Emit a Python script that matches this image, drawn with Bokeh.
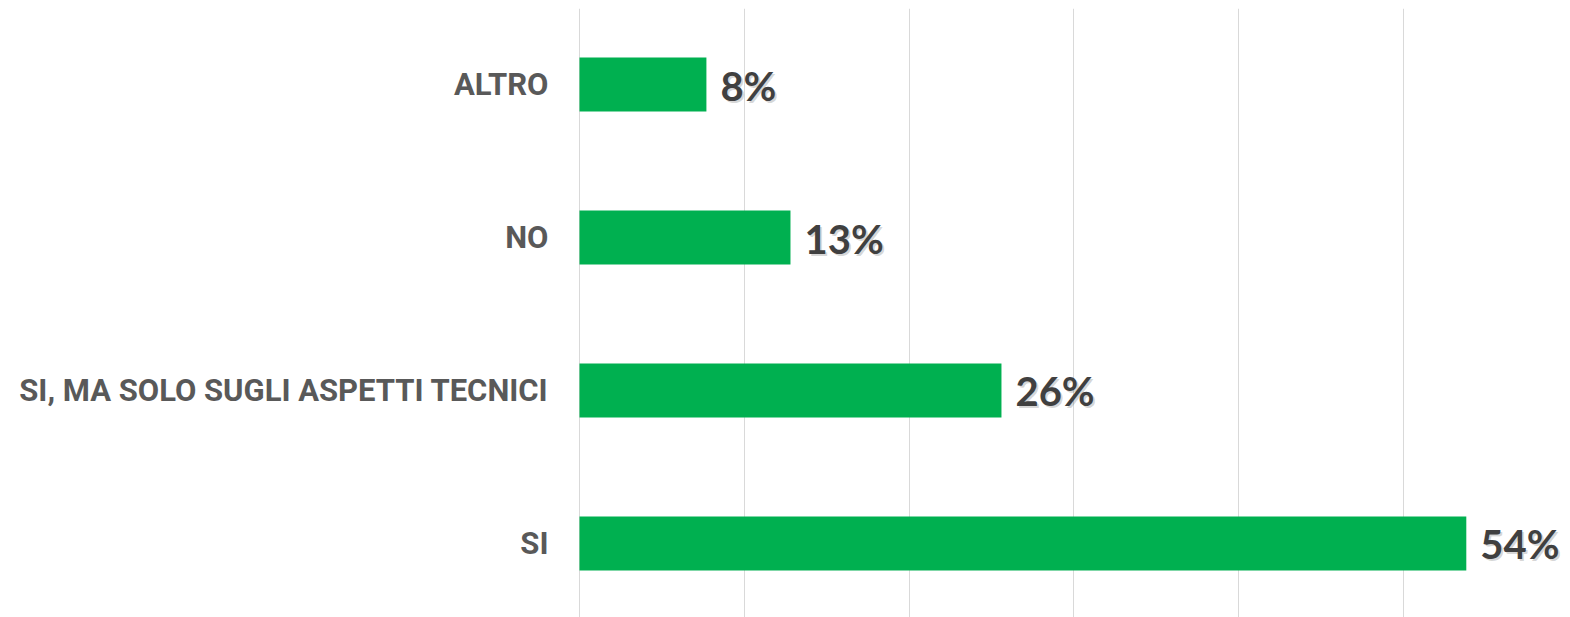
from bokeh.plotting import figure
from bokeh.models import FixedTicker, ColumnDataSource
from bokeh.core.properties import value
from bokeh.embed import file_html
from bokeh.resources import INLINE

categories = ["SI", "SI, MA SOLO SUGLI ASPETTI TECNICI", "NO", "ALTRO"]
values = [53.8, 25.6, 12.8, 7.7]
labels = ["54%", "26%", "13%", "8%"]
grid_ticks = [0, 10, 20, 30, 40, 50, 60]

pos = list(range(len(categories)))
src = ColumnDataSource(dict(y=pos, v=values, lab=labels))

p = figure(output_backend="svg", toolbar_location=None,
           frame_width=990, frame_height=609,
           min_border_left=578, min_border_right=2, min_border_top=8, min_border_bottom=0,
           x_range=(-0.06, 60), y_range=(-0.484, 3.497))

p.hbar(y="y", left=0, right="v", height=0.353, source=src,
       fill_color="#00B050", line_color=None)

p.text(x="v", y="y", text="lab", source=src, x_offset=16, y_offset=3,
       text_baseline="middle", text_align="left",
       text_font=value("Lato"), text_font_style="bold", text_font_size="40px",
       text_color="#000000", text_alpha=0.16)
p.text(x="v", y="y", text="lab", source=src, x_offset=14, y_offset=1,
       text_baseline="middle", text_align="left",
       text_font=value("Lato"), text_font_style="bold", text_font_size="40px",
       text_color="#404040")

p.xaxis.visible = False
p.xgrid.ticker = FixedTicker(ticks=grid_ticks)
p.xgrid.grid_line_color = "#D9D9D9"
p.xgrid.grid_line_width = 1
p.ygrid.grid_line_color = None

p.yaxis.ticker = FixedTicker(ticks=pos)
p.yaxis.major_label_overrides = {i: c for i, c in zip(pos, categories)}
p.yaxis.axis_line_color = None
p.yaxis.major_tick_line_color = None
p.yaxis.minor_tick_line_color = None
p.yaxis.major_tick_out = 0
p.yaxis.major_tick_in = 0
p.yaxis.major_label_standoff = 30
p.yaxis.major_label_text_font = "Roboto"
p.yaxis.major_label_text_font_style = "bold"
p.yaxis.major_label_text_font_size = "31px"
p.yaxis.major_label_text_color = "#595959"

p.outline_line_color = None

open("out.html", "w").write(file_html(p, INLINE))
